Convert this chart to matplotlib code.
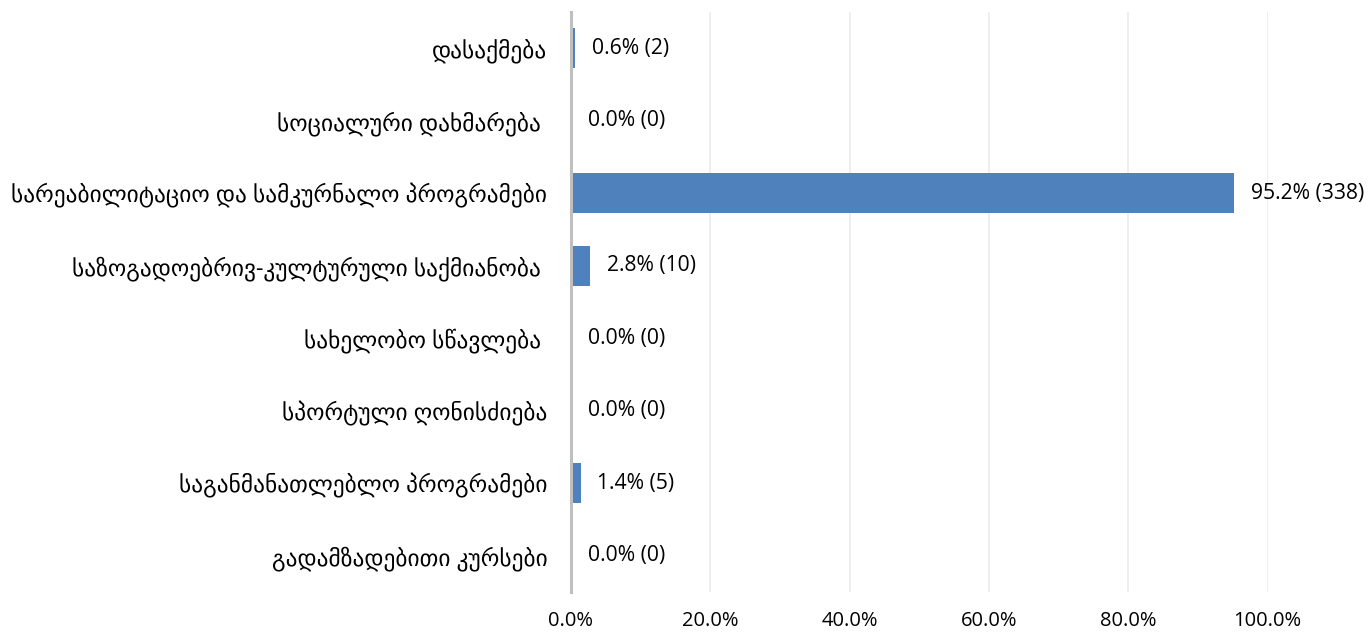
import numpy as np
import matplotlib.pyplot as plt
from matplotlib.ticker import FuncFormatter

plt.rcParams['font.family'] = ['Open Sans', 'DejaVu Sans']

categories = ['დასაქმება',
              'სოციალური დახმარება ',
              'სარეაბილიტაციო და სამკურნალო პროგრამები',
              'საზოგადოებრივ-კულტურული საქმიანობა ',
              'სახელობო სწავლება ',
              'სპორტული ღონისძიება',
              'საგანმანათლებლო პროგრამები',
              'გადამზადებითი კურსები']
percents = [0.6, 0.0, 95.2, 2.8, 0.0, 0.0, 1.4, 0.0]
counts = [2, 0, 338, 10, 0, 0, 5, 0]

fig = plt.figure(figsize=(13.69, 6.35), dpi=100)
ax = fig.add_axes([0.417, 0.068, 0.509, 0.913])
y = np.arange(len(categories))
ax.barh(y, percents, height=0.55, color='#4F81BD', zorder=3)
for yi, p, c in zip(y, percents, counts):
    ax.annotate(f'{p:.1f}% ({c})', (p, yi), xytext=(12, 0), textcoords='offset points',
                va='center', ha='left', fontsize=15.2, color='black')

ax.set_yticks(y)
ax.set_yticklabels(categories, fontsize=16.8)
ax.set_ylim(len(categories) - 0.5, -0.5)
ax.set_xlim(0, 100)
ax.set_xticks(np.arange(0, 101, 20))
ax.xaxis.set_major_formatter(FuncFormatter(lambda v, pos: f'{v:.1f}%'))
ax.tick_params(axis='x', labelsize=14.5, length=0, pad=14)
ax.tick_params(axis='y', length=0, pad=17)
ax.grid(axis='x', color='#EBEBEB', linewidth=1.2, zorder=0)
for s in ['top', 'right', 'bottom']:
    ax.spines[s].set_visible(False)
ax.spines['left'].set_color('#BFBFBF')
ax.spines['left'].set_linewidth(2.2)
ax.spines['left'].set_zorder(4)

fig.savefig('out.png', dpi=100)
